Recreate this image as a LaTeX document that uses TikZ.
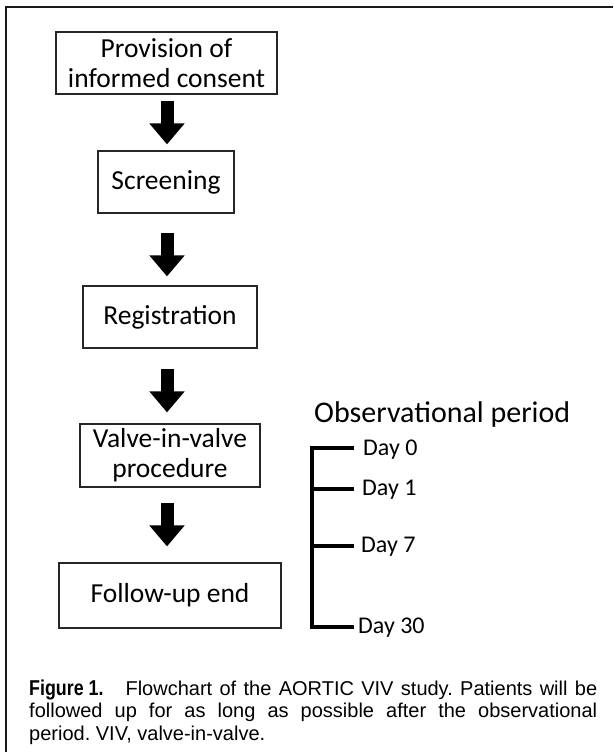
\documentclass[tikz,border=0pt]{standalone}
\usepackage{fontspec}
\setmainfont{Carlito}
\newfontfamily\capfont{Liberation Sans}
\usetikzlibrary{arrows.meta,calc}
\frenchspacing
\begin{document}
\begin{tikzpicture}[x=1pt,y=-1pt,
  box/.style={draw=black!85,line width=1.2pt,inner sep=0pt,align=center,
    font=\fontsize{27.5}{30}\selectfont},
  flowarrow/.style={line width=13pt,black,
    -{Triangle[width=34pt,length=21pt]}},
  tline/.style={line width=3.2pt,black,line join=miter,line cap=rect},
  daylab/.style={anchor=west,inner sep=0pt,font=\fontsize{24}{26}\selectfont},
  frame/.style={line width=2.5pt,black!90}]
\useasboundingbox (0,0) rectangle (613,752);
% frame (cropped: left and top)
\draw[frame] (6,752) -- (6,7) -- (613,7);
% boxes
\node[box,minimum width=221pt,minimum height=62pt] (b1) at (166.5,63)
  {Provision of\\informed consent};
\node[box,minimum width=136pt,minimum height=62pt] (b2) at (166,182) {Screening};
\node[box,minimum width=174pt,minimum height=62pt] (b3) at (170,317) {Registration};
\node[box,minimum width=180pt,minimum height=63pt] (b4) at (170,455.5)
  {Valve-in-valve\\procedure};
\node[box,minimum width=222pt,minimum height=65pt] (b5) at (170,595.5) {Follow-up end};
% block arrows
\coordinate (ax) at (167,0);
\draw[flowarrow,shorten <=6pt,shorten >=6pt] (b1.south -| ax) -- (b2.north -| ax);
\draw[flowarrow,shorten <=19pt,shorten >=9pt] (b2.south -| ax) -- (b3.north -| ax);
\draw[flowarrow,shorten <=20pt,shorten >=11pt] (b3.south -| ax) -- (b4.north -| ax);
\draw[flowarrow,shorten <=15pt,shorten >=16pt] (b4.south -| ax) -- (b5.north -| ax);
% observational period
\node[anchor=west,inner sep=0pt,font=\fontsize{30}{34}\selectfont] (obs) at (314,414)
  {Observational period};
\node[daylab] (d0) at (363,450) {Day 0};
\node[daylab] (d1) at (362,490) {Day 1};
\node[daylab] (d7) at (361,547) {Day 7};
\node[daylab] (d30) at (358,628) {Day 30};
\coordinate (t0) at (312,448);
\coordinate (t1) at (312,489);
\coordinate (t7) at (312,546);
\coordinate (t30) at (312,627);
\draw[tline] (352,448) -- (t0) -- (t30) -- (352,627);
\draw[tline] (t1) -- (352,489);
\draw[tline] (t7) -- (352,546);
% caption
\node[anchor=north west,inner sep=0pt,text width=568pt,align=justify,
  font=\capfont\fontsize{20}{22.5}\selectfont] (cap) at (29,679.5)
  {{\fontsize{21.5}{22.5}\selectfont\scalebox{0.83}[1]{\bfseries Figure 1.}}\hspace{22pt}Flowchart of the AORTIC VIV study. Patients will be\linebreak
   followed up for as long as possible after the observational\linebreak
   period. VIV, valve-in-valve.};
\end{tikzpicture}
\end{document}
